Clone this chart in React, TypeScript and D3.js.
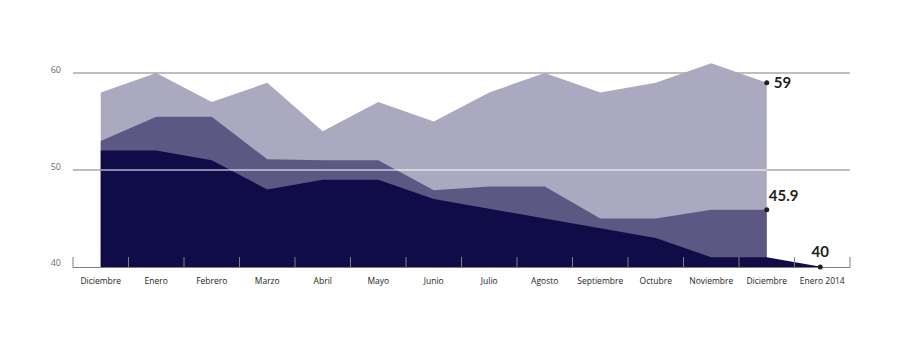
import React from "react";
import * as d3 from "d3";

const categories = [
  "Diciembre", "Enero", "Febrero", "Marzo", "Abril", "Mayo", "Junio",
  "Julio", "Agosto", "Septiembre", "Octubre", "Noviembre", "Diciembre ", "Enero 2014",
];
const categoryLabels = [
  "Diciembre", "Enero", "Febrero", "Marzo", "Abril", "Mayo", "Junio",
  "Julio", "Agosto", "Septiembre", "Octubre", "Noviembre", "Diciembre", "Enero 2014",
];
const lightValues = [58, 60, 57, 59, 54, 57, 55, 58, 60, 58, 59, 61, 59];
const midValues = [53, 55.5, 55.5, 51.1, 51, 51, 47.9, 48.3, 48.3, 45, 45, 45.9, 45.9];
const darkValues = [52, 52, 51, 48, 49, 49, 47, 46, 45, 44, 43, 41, 41, 40];
const yTicks = [40, 50, 60];
const endLabels = ["59", "45.9", "40"];

const W = 900;
const H = 350;
const left = 73;
const right = 850;
const top = 73;
const bottom = 267;

export default function App() {
  const x = d3.scaleBand<string>().domain(categories).range([left, right]).padding(0);
  const bw = x.bandwidth();
  const cx = (i: number) => (x(categories[i]) as number) + bw / 2;
  const y = d3.scaleLinear().domain([40, 60]).range([bottom, top]);

  const areaGen = d3
    .area<number>()
    .x((_, i) => cx(i))
    .y0(y(40))
    .y1((d) => y(d));

  const tickXs = categories.map((c) => x(c) as number).concat([right]);
  const lastLight = lightValues.length - 1;
  const lastMid = midValues.length - 1;
  const lastDark = darkValues.length - 1;

  const labelFont = "Lato, 'Open Sans', sans-serif";
  const textColor = "#231f20";

  return (
    <svg
      width={W}
      height={H}
      style={{ position: "absolute", left: 0, top: 0, background: "#fff" }}
    >
      {/* gridlines under areas */}
      {yTicks
        .filter((t) => t !== 40)
        .map((t) => (
          <line key={t} x1={left} x2={right} y1={y(t)} y2={y(t)} stroke="#7f7f7f" strokeWidth={1} />
        ))}
      {yTicks.map((t) => (
        <text
          key={"yl" + t}
          x={61}
          y={y(t) - (t === 40 ? 1 : 0)}
          textAnchor="end"
          fontFamily="'Open Sans', sans-serif"
          fontSize={9}
          fill="#6d6d6d"
        >
          {t}
        </text>
      ))}
      <path d={areaGen(lightValues) || ""} fill="#aba9c0" />
      <path d={areaGen(midValues) || ""} fill="#5c5883" />
      <path d={areaGen(darkValues) || ""} fill="#100c48" />
      {/* white 50 line over areas */}
      <line x1={cx(0)} x2={cx(lastLight)} y1={y(50)} y2={y(50)} stroke="#ffffff" strokeWidth={1} />
      {/* axis */}
      <line x1={left} x2={right} y1={bottom + 0.5} y2={bottom + 0.5} stroke="#7f7f7f" strokeWidth={1} />
      {tickXs.map((tx, i) => (
        <line key={"t" + i} x1={tx} x2={tx} y1={bottom - 10} y2={bottom + 0.5} stroke="#7f7f7f" strokeWidth={1} />
      ))}
      {categoryLabels.map((c, i) => (
        <text
          key={"c" + i}
          x={cx(i)}
          y={284}
          textAnchor="middle"
          fontFamily="'Open Sans', sans-serif"
          fontSize={8.5}
          fill="#231f20"
        >
          {c}
        </text>
      ))}
      {/* end markers */}
      <circle cx={cx(lastLight)} cy={y(lightValues[lastLight])} r={2.5} fill={textColor} />
      <text
        x={cx(lastLight) + 7}
        y={y(lightValues[lastLight]) + 5}
        fontFamily={labelFont}
        fontWeight="bold"
        fontSize={15}
        fill={textColor}
      >
        {endLabels[0]}
      </text>
      <circle cx={cx(lastMid)} cy={y(midValues[lastMid])} r={2.5} fill={textColor} />
      <text
        x={cx(lastMid) + 2}
        y={y(midValues[lastMid]) - 9}
        fontFamily={labelFont}
        fontWeight="bold"
        fontSize={15}
        fill={textColor}
      >
        {endLabels[1]}
      </text>
      <circle cx={cx(lastDark) - 2} cy={y(darkValues[lastDark])} r={2.5} fill={textColor} />
      <text
        x={cx(lastDark) - 2}
        y={y(darkValues[lastDark]) - 10}
        textAnchor="middle"
        fontFamily={labelFont}
        fontWeight="bold"
        fontSize={15}
        fill={textColor}
      >
        {endLabels[2]}
      </text>
    </svg>
  );
}
